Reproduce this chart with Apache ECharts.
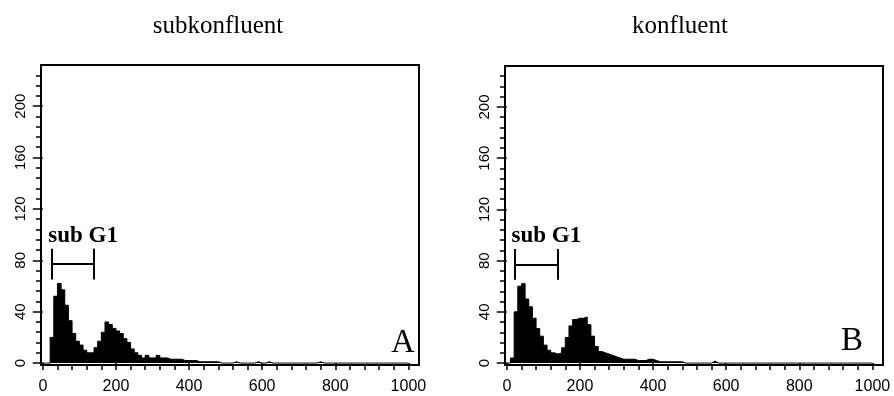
<!DOCTYPE html>
<html><head><meta charset="utf-8">
<script src="https://cdn.jsdelivr.net/npm/echarts@6/dist/echarts.min.js"></script>
<style>html,body{margin:0;padding:0;background:#fff}#c{width:894px;height:396px}</style>
</head><body><div id="c"></div>
<script>
// Histogram bin left edges (channel units)
const binEdges = [0,10,20,30,40,50,60,70,80,90,100,110,120,130,140,150,160,170,180,190,
  200,210,220,230,240,250,260,270,280,290,300,310,320,330,340,350,360,370,380,390,
  400,410,420,430,440,450,460,470,480,490,500,510,520,530,540,550,560,570,580,590,
  600,610,620,630,640,650,660,670,680,690,700,710,720,730,740,750,760,770,780,790,
  800,810,820,830,840,850,860,870,880,890,900,910,920,930,940,950,960,970,980,990,1000];
// Counts, panel A (subkonfluent)
const countsSub = [0,0,20,52,62,57,45,33,23,17,14,10,8,8,12,17,24,32,30,27,
  25,23,19,16,11,8,6,4,6,4,4,6,4,4,3,3,3,3,2,2,
  2,2,1,1,1,1,1,1,0,0,0,0,1,0,0,0,0,0,1,0,
  0,1,0,0,0,0,0,0,0,0,0,0,0,0,0,1,0,0,0,0,
  0,0,0,0,0,0,0,0,0,0,0,0,0,0,0,0,0,0,0,0,0];
// Counts, panel B (konfluent)
const countsKon = [0,4,40,60,62,50,44,35,27,21,14,10,8,7,8,12,20,29,34,35,
  35,36,30,21,13,9,8,7,6,5,4,3,3,3,3,2,2,2,3,3,
  2,1,1,1,1,1,1,1,0,0,0,0,0,0,0,0,1.5,0,0,0,
  0,0,0,0,0,0,0,0,0,0,0,0,0,0,0,0,0,0,0,0,
  0,0,0,0,0,0,0,0,0,0,0,0,0,0,0,0,0,0,0,0,0];
const panelTitles = ['subkonfluent', 'konfluent'];
const panelLetters = ['A', 'B'];
const gateLabel = 'sub G1';
const gateSub = [25, 138];
const gateKon = [23, 139];
const gateY = [65, 77, 89];
const xTickLabels = [0,200,400,600,800,1000];
const xMinorTicks = [0,40,80,120,160,200,240,280,320,360,400,440,480,520,560,600,640,680,720,760,800,840,880,920,960,1000];
const yTickLabels = [0,40,80,120,160,200];
const yMinorTicks = [0,8,16,24,32,40,48,56,64,72,80,88,96,104,112,120,128,136,144,152,160,168,176,184,192,200,208,216,224];

const pairs = (vals) => binEdges.map((e, i) => [e, vals[i]]);

const grids = [
  {left: 41, top: 65, width: 378, height: 300},
  {left: 505, top: 66, width: 378, height: 299}
];
const XMIN = -5, XMAX = 1029, YMIN = -1.5, YMAX = 232;
const font = 'Liberation Sans';

const xAxes = [], yAxes = [], series = [];
[0,1].forEach(g => {
  xAxes.push({
    type: 'value', gridIndex: g, min: XMIN, max: XMAX, position: 'bottom',
    axisLine: {show: true, onZero: false, lineStyle: {color: '#000', width: 2}},
    axisTick: {show: true, customValues: xMinorTicks, length: 5, lineStyle: {color: '#000', width: 1.5}},
    axisLabel: {show: true, customValues: xTickLabels, formatter: v => String(v), color: '#000', fontFamily: font, fontSize: 16, margin: 14},
    splitLine: {show: false}
  });
  xAxes.push({
    type: 'value', gridIndex: g, min: XMIN, max: XMAX, position: 'bottom',
    axisLine: {show: false},
    axisTick: {show: true, customValues: xTickLabels, length: 7, lineStyle: {color: '#000', width: 1.5}},
    axisLabel: {show: false}, splitLine: {show: false}
  });
  yAxes.push({
    type: 'value', gridIndex: g, min: YMIN, max: YMAX, position: 'left',
    axisLine: {show: true, onZero: false, lineStyle: {color: '#000', width: 2}},
    axisTick: {show: true, customValues: yMinorTicks, length: 5, lineStyle: {color: '#000', width: 1.5}},
    axisLabel: {show: true, customValues: yTickLabels, formatter: v => String(v), rotate: 90, color: '#000', fontFamily: font, fontSize: 15, margin: 13},
    splitLine: {show: false}
  });
  yAxes.push({
    type: 'value', gridIndex: g, min: YMIN, max: YMAX, position: 'left',
    axisLine: {show: false},
    axisTick: {show: true, customValues: yTickLabels, length: 10, lineStyle: {color: '#000', width: 1.5}},
    axisLabel: {show: false}, splitLine: {show: false}
  });
});

[[countsSub, gateSub], [countsKon, gateKon]].forEach(([vals, gate], g) => {
  series.push({
    type: 'line', xAxisIndex: g * 2, yAxisIndex: g * 2, step: 'end', symbol: 'none',
    data: pairs(vals), silent: true,
    lineStyle: {color: '#000', width: 1},
    areaStyle: {color: '#000', opacity: 1},
    markLine: {
      silent: true, symbol: 'none', label: {show: false},
      lineStyle: {color: '#000', width: 2, type: 'solid'},
      data: [
        [{coord: [gate[0], gateY[1]]}, {coord: [gate[1], gateY[1]]}],
        [{coord: [gate[0], gateY[0]]}, {coord: [gate[0], gateY[2]]}],
        [{coord: [gate[1], gateY[0]]}, {coord: [gate[1], gateY[2]]}]
      ]
    },
    markPoint: {
      silent: true, symbol: 'circle', symbolSize: 0,
      data: [{coord: [gate[0] - 10, 99], value: gateLabel}],
      label: {show: true, position: 'inside', align: 'left', verticalAlign: 'middle',
        formatter: gateLabel, color: '#000', fontFamily: 'Liberation Serif', fontWeight: 'bold', fontSize: 23}
    }
  });
});

const chart = echarts.init(document.getElementById('c'), null, {renderer: 'canvas'});
chart.setOption({
  animation: false,
  backgroundColor: '#fff',
  title: [
    {text: panelTitles[0], left: 213, top: 9, textAlign: 'center', textStyle: {fontFamily: 'Liberation Serif', fontWeight: 'normal', fontSize: 25, color: '#000'}},
    {text: panelTitles[1], left: 675, top: 9, textAlign: 'center', textStyle: {fontFamily: 'Liberation Serif', fontWeight: 'normal', fontSize: 25, color: '#000'}},
    {text: panelLetters[0], left: 398, top: 322, textAlign: 'center', textStyle: {fontFamily: 'Liberation Serif', fontWeight: 'normal', fontSize: 33, color: '#000'}},
    {text: panelLetters[1], left: 847, top: 320, textAlign: 'center', textStyle: {fontFamily: 'Liberation Serif', fontWeight: 'normal', fontSize: 33, color: '#000'}}
  ],
  grid: grids.map(gr => Object.assign({show: true, borderColor: '#000', borderWidth: 2, backgroundColor: 'transparent'}, gr)),
  xAxis: xAxes,
  yAxis: yAxes,
  series: series
});
</script>
</body></html>
